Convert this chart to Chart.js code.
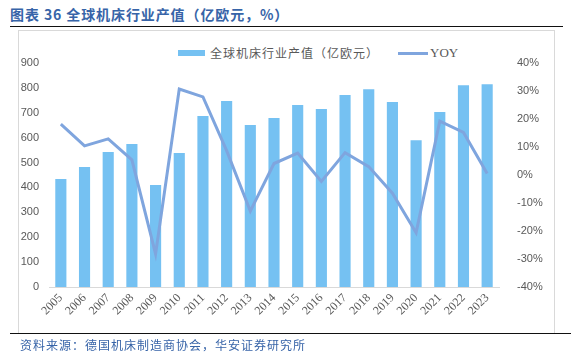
<!DOCTYPE html>
<html>
<head>
<meta charset="utf-8">
<script src="https://cdn.jsdelivr.net/npm/chart.js@4"></script>
<style>
  body { margin: 0; background: #fff; }
  #wrap { position: relative; width: 571px; height: 354px; overflow: hidden; }
  #title {
    position: absolute; left: 10px; top: 4px;
    font: bold 14px "Noto Sans CJK SC", sans-serif; color: #3764a8;
    white-space: nowrap; letter-spacing: 0.9px;
  }
  #topline { position: absolute; left: 10px; top: 26px; width: 553px; height: 0; border-top: 1.5px solid #111; }
  #frame { position: absolute; left: 18px; top: 30px; width: 535px; height: 303px; border: 1px solid #d9d9d9; border-bottom: none; }
  #botline { position: absolute; left: 10px; top: 333px; width: 561px; height: 0; border-top: 1.5px solid #111; }
  #source {
    position: absolute; left: 20px; top: 336px;
    font: 12px "Noto Sans CJK SC", sans-serif; color: #3764a8; letter-spacing: 1px;
    white-space: nowrap;
  }
  .leg { position: absolute; top: 44px; font: 12px "Noto Sans CJK SC", serif; color: #595959; white-space: nowrap; letter-spacing: 1px; }
  .sw { position: absolute; }
  canvas { position: absolute; left: 0; top: 0; }
</style>
</head>
<body>
<div id="wrap">
  <div id="title">图表 36 全球机床行业产值（亿欧元，%）</div>
  <div id="topline"></div>
  <div id="frame"></div>
  <div class="sw" style="left:178px; top:50px; width:27px; height:6px; background:#75c1f2;"></div>
  <div class="leg" style="left:210px;">全球机床行业产值（亿欧元）</div>
  <div class="sw" style="left:398px; top:52px; width:30px; height:3px; background:#7fa5de;"></div>
  <div class="leg" style="left:430px; font-family:'Liberation Serif', serif; font-size:13px; top:45px; letter-spacing:0;">YOY</div>
  <canvas id="grafico" width="571" height="354"></canvas>
  <div id="botline"></div>
  <div id="source">资料来源：德国机床制造商协会，华安证券研究所</div>
</div>
<script>
// dados
const anos = ['2005','2006','2007','2008','2009','2010','2011','2012','2013','2014',
              '2015','2016','2017','2018','2019','2020','2021','2022','2023'];
const producao = [434, 482, 542, 575, 410, 538, 687, 747, 651, 679,
                  731, 715, 771, 795, 743, 590, 703, 811, 815];
const yoy = [18.2, 10.4, 12.9, 5.4, -28.2, 30.7, 27.9, 8.7, -12.9, 4.1,
             7.8, -2.3, 8.0, 3.0, -6.5, -20.6, 19.2, 15.2, 0.5];
const ticksEsq = [0, 100, 200, 300, 400, 500, 600, 700, 800, 900];
const ticksDir = [-40, -30, -20, -10, 0, 10, 20, 30, 40];

const cinza = '#595959';
const ctx = document.getElementById('grafico');

new Chart(ctx, {
    type: 'bar',
    data: {
        labels: anos,
        datasets: [
            {
                type: 'line',
                label: 'YOY',
                data: yoy,
                yAxisID: 'y1',
                borderColor: '#7fa5de',
                backgroundColor: '#7fa5de',
                borderWidth: 3,
                pointRadius: 0,
                tension: 0,
                order: 0
            },
            {
                label: '全球机床行业产值（亿欧元）',
                data: producao,
                yAxisID: 'y',
                backgroundColor: '#75c1f2',
                categoryPercentage: 1,
                barPercentage: 0.47,
                order: 1
            }
        ]
    },
    options: {
        responsive: false,
        animation: false,
        layout: { padding: { top: 63, left: 0, right: 0, bottom: 0 } },
        plugins: { legend: { display: false }, tooltip: { enabled: false } },
        scales: {
            x: {
                grid: { display: false, drawTicks: false },
                border: { display: true, color: '#d9d9d9' },
                ticks: {
                    color: cinza,
                    font: { family: 'Liberation Serif', size: 12 },
                    minRotation: 45, maxRotation: 45,
                    padding: 4, autoSkip: false
                },
                afterFit: s => { s.height = 67; }
            },
            y: {
                position: 'left',
                min: 0, max: 900,
                afterBuildTicks: s => { s.ticks = ticksEsq.map(v => ({ value: v })); },
                grid: { display: false, drawTicks: false },
                border: { display: false },
                ticks: {
                    color: cinza,
                    font: { family: 'Liberation Sans', size: 11 },
                    padding: 10
                },
                afterFit: s => { s.width = 49; }
            },
            y1: {
                position: 'right',
                min: -40, max: 40,
                afterBuildTicks: s => { s.ticks = ticksDir.map(v => ({ value: v })); },
                grid: { display: false, drawTicks: false },
                border: { display: false },
                ticks: {
                    color: cinza,
                    font: { family: 'Liberation Sans', size: 11 },
                    padding: 18,
                    callback: v => v + '%'
                },
                afterFit: s => { s.width = 72; }
            }
        }
    }
});
</script>
</body>
</html>
